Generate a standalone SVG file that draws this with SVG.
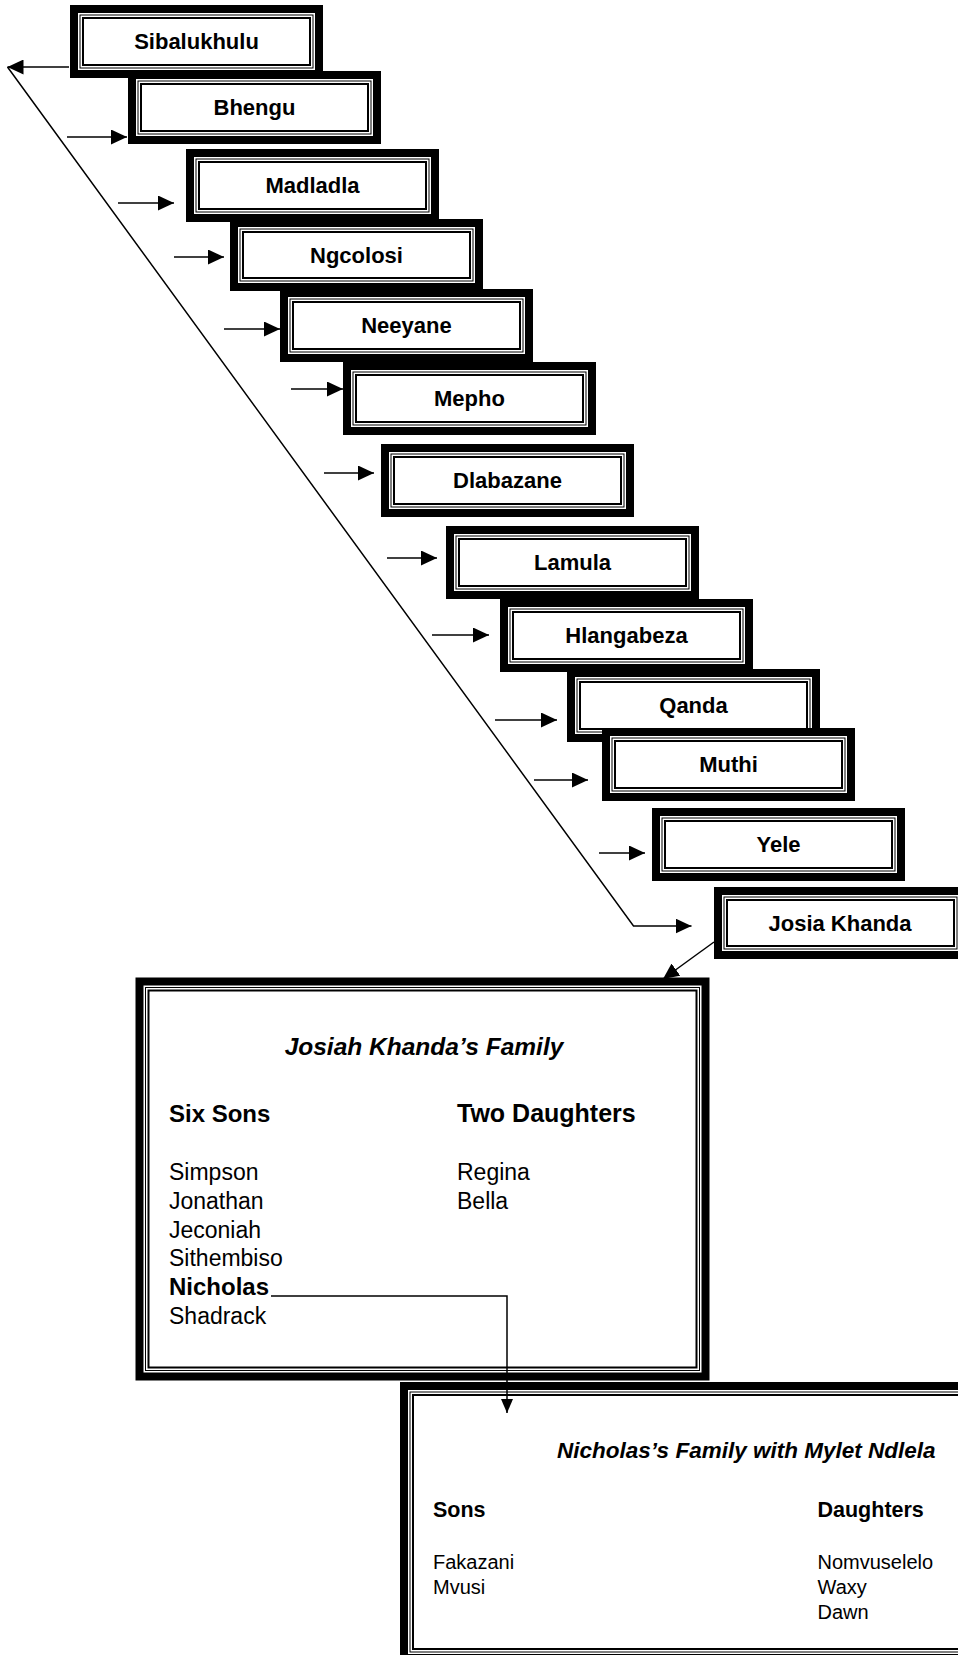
<svg xmlns="http://www.w3.org/2000/svg" width="958" height="1655" viewBox="0 0 958 1655">
<style>
text{font-family:"Liberation Sans",Arial,sans-serif;fill:#000}
.outer{fill:#fff;stroke:#000;stroke-width:8}
.thin{fill:none;stroke:#000;stroke-width:1}
.mid{fill:none;stroke:#000;stroke-width:2}
.lbl{font-size:22px;font-weight:bold;text-anchor:middle}
.ttl{font-weight:bold;font-style:italic}
.hd{font-weight:bold}
.nm{font-weight:normal}
.con{fill:none;stroke:#000;stroke-width:1.5}
</style>
<defs>
<marker id="ah" markerUnits="userSpaceOnUse" markerWidth="16" markerHeight="15" refX="16" refY="7.5" orient="auto"><path d="M0,0 L16,7.5 L0,15 z" fill="#000"/></marker>
<marker id="ahs" markerUnits="userSpaceOnUse" markerWidth="14" markerHeight="12" refX="14" refY="6" orient="auto"><path d="M0,0 L14,6 L0,12 z" fill="#000"/></marker>
</defs>
<g id="nodes">
<g id="n-sibalukhulu"><rect class="outer" x="74" y="9" width="245" height="65"/><rect class="thin" x="80" y="15" width="233" height="53"/><rect class="mid" x="83" y="18" width="227" height="47"/><text class="lbl" x="196.5" y="49">Sibalukhulu</text></g>
<g id="n-bhengu"><rect class="outer" x="132" y="75" width="245" height="65"/><rect class="thin" x="138" y="81" width="233" height="53"/><rect class="mid" x="141" y="84" width="227" height="47"/><text class="lbl" x="254.5" y="115">Bhengu</text></g>
<g id="n-madladla"><rect class="outer" x="190" y="153" width="245" height="65"/><rect class="thin" x="196" y="159" width="233" height="53"/><rect class="mid" x="199" y="162" width="227" height="47"/><text class="lbl" x="312.5" y="193">Madladla</text></g>
<g id="n-ngcolosi"><rect class="outer" x="234" y="223" width="245" height="64"/><rect class="thin" x="240" y="229" width="233" height="52"/><rect class="mid" x="243" y="232" width="227" height="46"/><text class="lbl" x="356.5" y="263">Ngcolosi</text></g>
<g id="n-neeyane"><rect class="outer" x="284" y="293" width="245" height="65"/><rect class="thin" x="290" y="299" width="233" height="53"/><rect class="mid" x="293" y="302" width="227" height="47"/><text class="lbl" x="406.5" y="333">Neeyane</text></g>
<g id="n-mepho"><rect class="outer" x="347" y="366" width="245" height="65"/><rect class="thin" x="353" y="372" width="233" height="53"/><rect class="mid" x="356" y="375" width="227" height="47"/><text class="lbl" x="469.5" y="406">Mepho</text></g>
<g id="n-dlabazane"><rect class="outer" x="385" y="448" width="245" height="65"/><rect class="thin" x="391" y="454" width="233" height="53"/><rect class="mid" x="394" y="457" width="227" height="47"/><text class="lbl" x="507.5" y="488">Dlabazane</text></g>
<g id="n-lamula"><rect class="outer" x="450" y="530" width="245" height="65"/><rect class="thin" x="456" y="536" width="233" height="53"/><rect class="mid" x="459" y="539" width="227" height="47"/><text class="lbl" x="572.5" y="570">Lamula</text></g>
<g id="n-hlangabeza"><rect class="outer" x="504" y="603" width="245" height="65"/><rect class="thin" x="510" y="609" width="233" height="53"/><rect class="mid" x="513" y="612" width="227" height="47"/><text class="lbl" x="626.5" y="643">Hlangabeza</text></g>
<g id="n-qanda"><rect class="outer" x="571" y="673" width="245" height="65"/><rect class="thin" x="577" y="679" width="233" height="53"/><rect class="mid" x="580" y="682" width="227" height="47"/><text class="lbl" x="693.5" y="713">Qanda</text></g>
<g id="n-muthi"><rect class="outer" x="606" y="732" width="245" height="65"/><rect class="thin" x="612" y="738" width="233" height="53"/><rect class="mid" x="615" y="741" width="227" height="47"/><text class="lbl" x="728.5" y="772">Muthi</text></g>
<g id="n-yele"><rect class="outer" x="656" y="812" width="245" height="65"/><rect class="thin" x="662" y="818" width="233" height="53"/><rect class="mid" x="665" y="821" width="227" height="47"/><text class="lbl" x="778.5" y="852">Yele</text></g>
<g id="n-josia"><rect class="outer" x="718" y="891" width="245" height="64"/><rect class="thin" x="724" y="897" width="233" height="52"/><rect class="mid" x="727" y="900" width="227" height="46"/><text class="lbl" x="840" y="931">Josia Khanda</text></g>
<g id="n-josiah-family">
<rect class="outer" x="139.5" y="981.5" width="566" height="395"/><rect class="thin" x="145.5" y="987.5" width="554" height="383"/><rect class="mid" x="148.5" y="990.5" width="548" height="377"/>
<text class="ttl" x="424" y="1055" font-size="24.5" text-anchor="middle">Josiah Khanda’s Family</text>
<text class="hd" x="169" y="1122" font-size="24">Six Sons</text>
<text class="hd" x="457" y="1122" font-size="25">Two Daughters</text>
<text class="nm" x="169" y="1180" font-size="23">Simpson</text>
<text class="nm" x="169" y="1208.8" font-size="23">Jonathan</text>
<text class="nm" x="169" y="1237.6" font-size="23">Jeconiah</text>
<text class="nm" x="169" y="1266.4" font-size="23">Sithembiso</text>
<text class="hd" x="169" y="1295.2" font-size="24">Nicholas</text>
<text class="nm" x="169" y="1324" font-size="23">Shadrack</text>
<text class="nm" x="457" y="1180" font-size="23">Regina</text>
<text class="nm" x="457" y="1208.8" font-size="23">Bella</text>
</g>
<g id="n-nicholas-family">
<rect class="outer" x="404" y="1386" width="580" height="272"/><rect class="thin" x="410" y="1392" width="568" height="260"/><rect class="mid" x="413" y="1395" width="562" height="254"/>
<text class="ttl" x="557" y="1458" font-size="22.5">Nicholas’s Family with Mylet Ndlela</text>
<text class="hd" x="433" y="1517" font-size="21.5">Sons</text>
<text class="hd" x="817.5" y="1517" font-size="21.5">Daughters</text>
<text class="nm" x="433" y="1569" font-size="20">Fakazani</text>
<text class="nm" x="433" y="1594" font-size="20">Mvusi</text>
<text class="nm" x="817.5" y="1569" font-size="20">Nomvuselelo</text>
<text class="nm" x="817.5" y="1594" font-size="20">Waxy</text>
<text class="nm" x="817.5" y="1619" font-size="20">Dawn</text>
</g>
</g>
<g id="connectors">
<line class="con" x1="69" y1="67" x2="7.5" y2="67" marker-end="url(#ah)"/>
<polyline class="con" points="7.5,67 633.5,926 691.5,926" marker-end="url(#ah)"/>
<line class="con" x1="67" y1="137" x2="127" y2="137" marker-end="url(#ah)"/>
<line class="con" x1="118" y1="203" x2="174" y2="203" marker-end="url(#ah)"/>
<line class="con" x1="174" y1="257" x2="224" y2="257" marker-end="url(#ah)"/>
<line class="con" x1="224" y1="329" x2="280" y2="329" marker-end="url(#ah)"/>
<line class="con" x1="291" y1="389" x2="343" y2="389" marker-end="url(#ah)"/>
<line class="con" x1="324" y1="473" x2="374" y2="473" marker-end="url(#ah)"/>
<line class="con" x1="387" y1="558" x2="437" y2="558" marker-end="url(#ah)"/>
<line class="con" x1="432" y1="635" x2="489" y2="635" marker-end="url(#ah)"/>
<line class="con" x1="495" y1="720" x2="557" y2="720" marker-end="url(#ah)"/>
<line class="con" x1="534" y1="780" x2="588" y2="780" marker-end="url(#ah)"/>
<line class="con" x1="599" y1="853" x2="645" y2="853" marker-end="url(#ah)"/>
<line class="con" x1="714" y1="942" x2="663" y2="979" marker-end="url(#ah)"/>
<polyline class="con" points="271,1296 507,1296 507,1413" marker-end="url(#ahs)"/>
</g>
</svg>
